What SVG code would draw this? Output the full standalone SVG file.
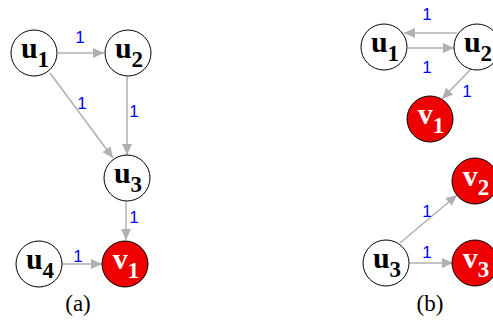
<svg xmlns="http://www.w3.org/2000/svg" width="493" height="324" viewBox="0 0 493 324">
<style>
.n{fill:#fff;stroke:#000;stroke-width:1}
.r{fill:#ee0000;stroke:#000;stroke-width:1}
.tw{fill:#fff}
.e{stroke:#b0b0b0;stroke-width:1.5;fill:none;marker-end:url(#ah)}
</style>
<defs>
<marker id="ah" markerUnits="userSpaceOnUse" markerWidth="12" markerHeight="10" refX="11" refY="5" orient="auto">
<path d="M0,0 L11,5 L0,10 Z" fill="#b0b0b0"/>
</marker>
</defs>
<g id="connectors">
<line class="e" x1="58" y1="53" x2="104" y2="53"/>
<line class="e" x1="50" y1="73" x2="113" y2="158"/>
<line class="e" x1="127" y1="77" x2="127" y2="155"/>
<line class="e" x1="126" y1="202" x2="126" y2="240"/>
<line class="e" x1="62" y1="264" x2="102" y2="264"/>
<line class="e" x1="457" y1="33" x2="404" y2="33"/>
<line class="e" x1="408" y1="48" x2="454" y2="48"/>
<line class="e" x1="472" y1="68" x2="442" y2="99"/>
<line class="e" x1="400" y1="243" x2="457" y2="195"/>
<line class="e" x1="410" y1="263" x2="453" y2="263"/>
<g font-family="Liberation Sans, Arial, sans-serif" font-size="17" fill="#0000ff" text-anchor="middle">
<text x="80" y="43">1</text>
<text x="82" y="109">1</text>
<text x="134" y="117">1</text>
<text x="134" y="223">1</text>
<text x="78" y="262">1</text>
<text x="427" y="20">1</text>
<text x="427" y="73">1</text>
<text x="467" y="97">1</text>
<text x="427" y="217">1</text>
<text x="427" y="258">1</text>
</g>
</g>
<g font-family="Liberation Serif, Times New Roman, serif" font-weight="bold" font-size="30" text-anchor="middle">
<g id="a-u1"><circle class="n" cx="34" cy="53" r="23"/><text x="35" y="58">u<tspan font-size="23" dy="9">1</tspan></text></g>
<g id="a-u2"><circle class="n" cx="128" cy="53" r="23"/><text x="129" y="58">u<tspan font-size="23" dy="9">2</tspan></text></g>
<g id="a-u3"><circle class="n" cx="127" cy="178" r="23"/><text x="128" y="183">u<tspan font-size="23" dy="9">3</tspan></text></g>
<g id="a-u4"><circle class="n" cx="39" cy="264" r="23"/><text x="40" y="269">u<tspan font-size="23" dy="9">4</tspan></text></g>
<g id="a-v1"><circle class="r" cx="125" cy="264" r="23"/><text class="tw" x="126" y="269">v<tspan font-size="23" dy="9">1</tspan></text></g>
<g id="b-u1"><circle class="n" cx="384" cy="47" r="23"/><text x="385" y="52">u<tspan font-size="23" dy="9">1</tspan></text></g>
<g id="b-u2"><circle class="n" cx="477" cy="47" r="23"/><text x="478" y="52">u<tspan font-size="23" dy="9">2</tspan></text></g>
<g id="b-v1"><circle class="r" cx="430" cy="119" r="23"/><text class="tw" x="431" y="124">v<tspan font-size="23" dy="9">1</tspan></text></g>
<g id="b-v2"><circle class="r" cx="475" cy="181" r="23"/><text class="tw" x="476" y="186">v<tspan font-size="23" dy="9">2</tspan></text></g>
<g id="b-u3"><circle class="n" cx="386" cy="263" r="23"/><text x="387" y="268">u<tspan font-size="23" dy="9">3</tspan></text></g>
<g id="b-v3"><circle class="r" cx="475" cy="263" r="23"/><text class="tw" x="476" y="268">v<tspan font-size="23" dy="9">3</tspan></text></g>
</g>
<g font-family="Liberation Serif, Times New Roman, serif" font-size="23" text-anchor="middle">
<text x="78" y="311">(a)</text>
<text x="430" y="311">(b)</text>
</g>
</svg>
